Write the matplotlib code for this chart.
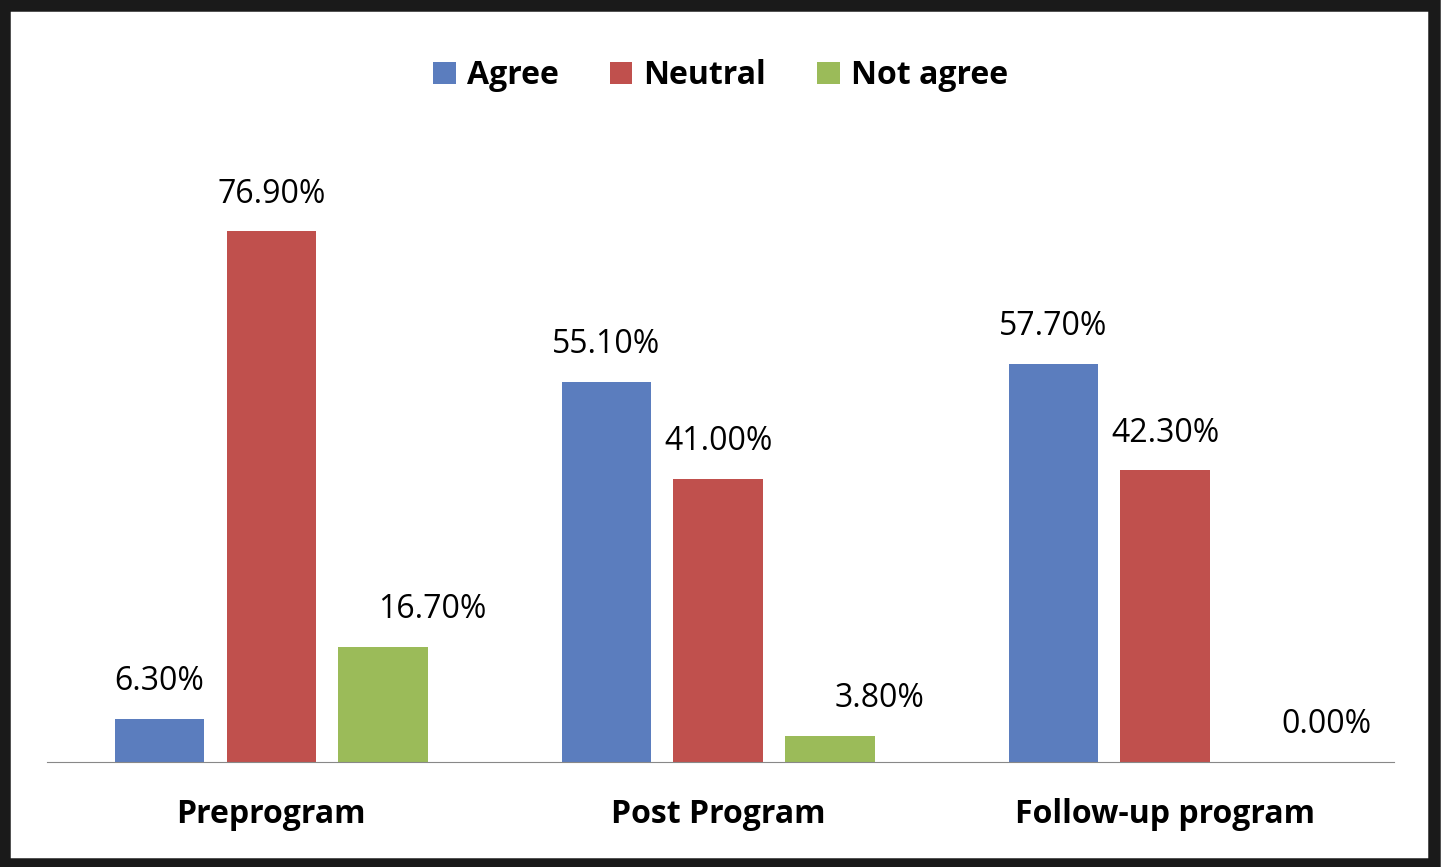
import matplotlib
matplotlib.use("Agg")
import matplotlib.pyplot as plt
from matplotlib.patches import Rectangle
import numpy as np

categories = ["Preprogram", "Post Program", "Follow-up program"]
series = ["Agree", "Neutral", "Not agree"]
agree = [6.3, 55.1, 57.7]
neutral = [76.9, 41.0, 42.3]
not_agree = [16.7, 3.8, 0.0]
colors = ["#5B7DBE", "#C0504D", "#9BBB59"]
label_shift = [0.0, 0.0, 0.11]

fig = plt.figure(figsize=(14.41, 8.67), dpi=100)
fig.patches.append(Rectangle((0.003, 0.004), 0.992, 0.99, transform=fig.transFigure,
                             fill=False, edgecolor="#1a1a1a", linewidth=9))
ax = fig.add_axes([0.0326, 0.121, 0.935, 0.764])

x = np.arange(len(categories))
w = 0.2
for i, (vals, name) in enumerate(zip([agree, neutral, not_agree], series)):
    pos = x + (i - 1) * 0.25
    ax.bar(pos, vals, w, color=colors[i], label=name)
    for p, v in zip(pos, vals):
        ax.text(p + label_shift[i], v + 3.0, f"{v:.2f}%", ha="center", va="bottom",
                fontsize=23, family="Open Sans")

ax.set_xlim(-0.502, 2.513)
ax.set_ylim(0, 96)
ax.set_yticks([])
ax.set_xticks(x)
ax.set_xticklabels(categories, fontsize=23, fontweight="bold", family="Open Sans")
ax.tick_params(axis="x", length=0, pad=26)
for s in ["top", "right", "left"]:
    ax.spines[s].set_visible(False)
ax.spines["bottom"].set_color("#888888")

ax.legend(loc="upper center", bbox_to_anchor=(0.5, 1.105), ncol=3, frameon=False,
          prop={"size": 23, "weight": "bold", "family": "Open Sans"},
          handlelength=0.7, handleheight=0.7, columnspacing=1.6, handletextpad=0.35)

fig.savefig("out.png", dpi=100)
